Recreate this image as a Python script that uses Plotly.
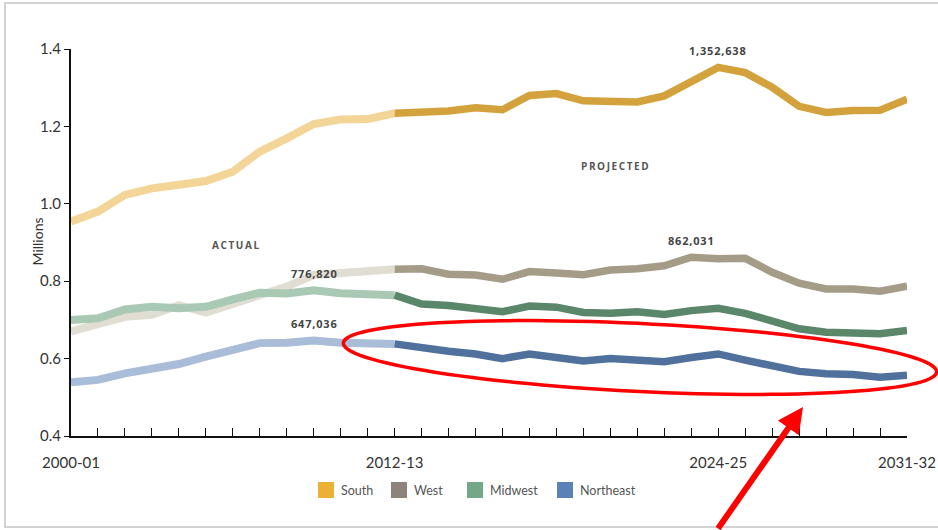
import plotly.graph_objects as go
import numpy as np

# School years 2000-01 through 2031-32
years = [f"{y}-{(y + 1) % 100:02d}" for y in range(2000, 2032)]
labeled_years = ["2000-01", "2012-13", "2024-25", "2031-32"]
last_actual = "2012-13"

regions = ["South", "West", "Midwest", "Northeast"]

# Graduates, in millions
south = [0.954, 0.980, 1.023, 1.040, 1.049, 1.059, 1.083, 1.135, 1.169, 1.206,
         1.218, 1.219, 1.234, 1.237, 1.240, 1.248, 1.243, 1.280, 1.285, 1.266,
         1.266, 1.263, 1.279, 1.314, 1.352638, 1.339, 1.301, 1.252, 1.236, 1.241,
         1.242, 1.270]
west = [0.670, 0.688, 0.708, 0.713, 0.738, 0.719, 0.743, 0.767, 0.786, 0.816,
        0.822, 0.826, 0.831, 0.832, 0.818, 0.816, 0.805, 0.825, 0.821, 0.817,
        0.829, 0.832, 0.840, 0.862031, 0.858, 0.859, 0.823, 0.795, 0.780, 0.780,
        0.774, 0.787]
midwest = [0.700, 0.704, 0.727, 0.734, 0.730, 0.734, 0.753, 0.770, 0.768, 0.776820,
           0.769, 0.767, 0.764, 0.741, 0.737, 0.730, 0.721, 0.736, 0.733, 0.719,
           0.717, 0.721, 0.714, 0.724, 0.730, 0.717, 0.697, 0.677, 0.668, 0.668,
           0.664, 0.673]
northeast = [0.539, 0.545, 0.562, 0.575, 0.586, 0.605, 0.622, 0.640, 0.641, 0.647036,
             0.641, 0.640, 0.638, 0.627, 0.619, 0.612, 0.600, 0.612, 0.605, 0.594,
             0.600, 0.598, 0.592, 0.603, 0.612, 0.596, 0.582, 0.567, 0.561, 0.559,
             0.552, 0.557]

series = {"South": south, "West": west, "Midwest": midwest, "Northeast": northeast}

# Peak values called out on the chart: (region, school year)
callouts = [("South", "2024-25"), ("West", "2023-24"),
            ("Midwest", "2009-10"), ("Northeast", "2009-10")]

actual_colors = {"South": "#f2d597", "West": "#e0ddd3", "Midwest": "#a9c9b5", "Northeast": "#a9bdd8"}
projected_colors = {"South": "#d4a23c", "West": "#a59c88", "Midwest": "#5a866a", "Northeast": "#4f719b"}
key_colors = {"South": "#ebb034", "West": "#8c847b", "Midwest": "#72a887", "Northeast": "#5b82b8"}

W, H = 938, 530
PL, PR, PT, PB = 71, 907, 49, 436


def fx(p):
    return (p - PL) / (PR - PL)


def fy(p):
    return (PB - p) / (PB - PT)


split = years.index(last_actual)
fig = go.Figure()

for name in regions:
    vals = series[name]
    fig.add_trace(go.Scatter(x=years[:split + 1], y=vals[:split + 1], mode="lines",
                             line=dict(color=actual_colors[name], width=8),
                             showlegend=False, hoverinfo="skip"))
for name in regions:
    vals = series[name]
    fig.add_trace(go.Scatter(x=years[split:], y=vals[split:], mode="lines",
                             line=dict(color=projected_colors[name], width=7.5),
                             showlegend=False, name=name))

annotations = []
num_font = dict(family="Open Sans", size=11, color="#444")
for name, yr in callouts:
    v = series[name][years.index(yr)]
    annotations.append(dict(x=yr, y=v, xref="x", yref="y", yshift=17, showarrow=False,
                            text=f'<span style="letter-spacing:0.8px"><b>{round(v * 1e6):,}</b></span>',
                            font=num_font))

small_caps = dict(family="Open Sans", size=10, color="#555")
annotations.append(dict(x=fx(210), y=fy(245), xref="paper", yref="paper", showarrow=False,
                        text='<span style="letter-spacing:1.6px"><b>ACTUAL</b></span>', font=small_caps))
annotations.append(dict(x=fx(615), y=fy(157), xref="paper", yref="paper", showarrow=False,
                        text='<span style="letter-spacing:1.6px"><b>PROJECTED</b></span>', font=small_caps))

# Axis title
annotations.append(dict(x=fx(27), y=fy(242), xref="paper", yref="paper", showarrow=False,
                        text="Millions", textangle=-90,
                        font=dict(family="Lato", size=14, color="#333")))

# Legend keys along the bottom
key_left = {"South": 318, "West": 391, "Midwest": 467, "Northeast": 557}
shapes = []
for name in regions:
    x0 = key_left[name]
    shapes.append(dict(type="rect", xref="paper", yref="paper",
                       x0=fx(x0), x1=fx(x0 + 16), y0=fy(498), y1=fy(482),
                       fillcolor=key_colors[name], line=dict(width=0)))
    annotations.append(dict(x=fx(x0 + 21), y=fy(490), xref="paper", yref="paper",
                            xanchor="left", yanchor="middle", showarrow=False, text=name,
                            font=dict(family="Lato", size=12.5, color="#555")))

# Outer frame
shapes.append(dict(type="rect", xref="paper", yref="paper",
                   x0=fx(5), x1=fx(946), y0=fy(527), y1=fy(3),
                   line=dict(color="#d2d2d2", width=2), fillcolor="rgba(0,0,0,0)"))

# Red highlight ellipse around the Northeast projection
cx, cy, a, b = 640, 357.5, 297, 34
ang = np.arctan2(29, 594)
t = np.linspace(0, 2 * np.pi, 120)
ex = cx + a * np.cos(t) * np.cos(ang) - b * np.sin(t) * np.sin(ang)
ey = cy + a * np.cos(t) * np.sin(ang) + b * np.sin(t) * np.cos(ang)
path = "M " + " L ".join(f"{fx(u):.5f},{fy(v):.5f}" for u, v in zip(ex, ey)) + " Z"
shapes.append(dict(type="path", xref="paper", yref="paper", path=path,
                   line=dict(color="#ff0000", width=3.5)))

# Red pointer arrow
annotations.append(dict(x=fx(803), y=fy(407), xref="paper", yref="paper", text="",
                        showarrow=True, ax=-86, ay=130, arrowcolor="#ff0000",
                        arrowwidth=6, arrowhead=2, arrowsize=0.85))

tick_font = dict(family="Lato", size=15, color="#333")
fig.update_layout(
    width=W, height=H,
    margin=dict(l=PL, r=W - PR, t=PT, b=H - PB),
    paper_bgcolor="white", plot_bgcolor="white",
    showlegend=False,
    xaxis=dict(type="category", range=[0, len(years) - 1], automargin=False,
               tickmode="array", tickvals=years,
               ticktext=[y if y in labeled_years else "" for y in years],
               ticks="inside", ticklen=8, tickwidth=1.2, tickcolor="#111",
               showline=True, linecolor="#111", linewidth=2,
               showgrid=False, zeroline=False, tickfont=tick_font,
               ticklabelstandoff=12),
    yaxis=dict(range=[0.4, 1.4], automargin=False,
               tickvals=[0.4, 0.6, 0.8, 1.0, 1.2, 1.4],
               ticktext=["0.4", "0.6", "0.8", "1.0", "1.2", "1.4"],
               ticks="outside", ticklen=5, tickwidth=1.2, tickcolor="#111",
               showline=True, linecolor="#111", linewidth=2,
               showgrid=False, zeroline=False, tickfont=tick_font),
    shapes=shapes,
    annotations=annotations,
)

fig.write_html("out.html")
